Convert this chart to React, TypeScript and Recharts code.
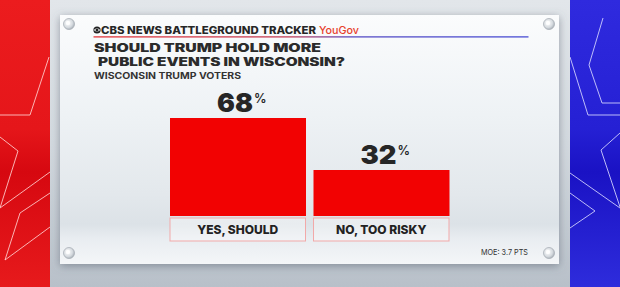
import React from "react";
import { BarChart, Bar, XAxis, YAxis, LabelList } from "recharts";

const categories = ["YES, SHOULD", "NO, TOO RISKY"];
const values = [68, 32];
const headerText = "CBS NEWS BATTLEGROUND TRACKER";
const brandText = "YouGov";
const titleLines = ["SHOULD TRUMP HOLD MORE", " PUBLIC EVENTS IN WISCONSIN?"];
const subtitleText = "WISCONSIN TRUMP VOTERS";
const moeText = "MOE: 3.7 PTS";

const data = categories.map((c, i) => ({ name: c, value: values[i] }));

const FONT = "Inter, 'Open Sans', 'DejaVu Sans', sans-serif";
const BAR_COLOR = "#f20202";

const Screw = ({ cx, cy }: { cx: number; cy: number }) => (
  <g>
    <circle cx={cx} cy={cy} r={5.5} fill="url(#screwGrad)" stroke="#a9b0b7" strokeWidth={0.8} />
    <circle cx={cx - 1} cy={cy - 1} r={2.2} fill="#ffffff" opacity={0.8} />
  </g>
);

const Background = () => (
  <svg width={620} height={287} style={{ position: "absolute", left: 0, top: 0 }}>
    <defs>
      <linearGradient id="midBg" x1="0" y1="0" x2="0" y2="1">
        <stop offset="0" stopColor="#e2e6ea" />
        <stop offset="0.5" stopColor="#d3d9df" />
        <stop offset="1" stopColor="#b8c0c9" />
      </linearGradient>
      <linearGradient id="redBg" x1="0" y1="0" x2="0" y2="1">
        <stop offset="0" stopColor="#ec1c1e" />
        <stop offset="0.45" stopColor="#e5161a" />
        <stop offset="0.6" stopColor="#d60810" />
        <stop offset="1" stopColor="#e71a1c" />
      </linearGradient>
      <linearGradient id="blueBg" x1="0" y1="0" x2="0" y2="1">
        <stop offset="0" stopColor="#2f2ade" />
        <stop offset="0.45" stopColor="#2520d4" />
        <stop offset="0.6" stopColor="#1a12c4" />
        <stop offset="1" stopColor="#2e2cdc" />
      </linearGradient>
      <linearGradient id="panelGrad" x1="0" y1="0" x2="0" y2="1">
        <stop offset="0" stopColor="#fbfcfd" />
        <stop offset="0.4" stopColor="#eef2f5" />
        <stop offset="0.72" stopColor="#e3e8ec" />
        <stop offset="0.84" stopColor="#dce2e7" />
        <stop offset="0.9" stopColor="#e9edf1" />
        <stop offset="1" stopColor="#f4f6f8" />
      </linearGradient>
      <linearGradient id="ruleGrad" x1="0" y1="0" x2="1" y2="0">
        <stop offset="0" stopColor="#e3262a" />
        <stop offset="0.45" stopColor="#c0304a" />
        <stop offset="0.6" stopColor="#4a3fc0" />
        <stop offset="1" stopColor="#3a3fd0" />
      </linearGradient>
      <radialGradient id="screwGrad" cx="0.4" cy="0.4" r="0.7">
        <stop offset="0" stopColor="#ffffff" />
        <stop offset="0.6" stopColor="#d5dadf" />
        <stop offset="1" stopColor="#9aa2aa" />
      </radialGradient>
      <filter id="panelShadow" x="-10%" y="-10%" width="120%" height="130%">
        <feDropShadow dx="0" dy="2" stdDeviation="4" floodColor="#55606c" floodOpacity="0.55" />
      </filter>
    </defs>
    <rect x={0} y={0} width={620} height={287} fill="url(#midBg)" />
    <rect x={0} y={0} width={50} height={287} fill="url(#redBg)" />
    <rect x={570} y={0} width={50} height={287} fill="url(#blueBg)" />
    <g fill="none" stroke="#ffd0d0" strokeWidth={1} opacity={0.85}>
      <polyline points="49,57 30,115 0,115" />
      <polyline points="0,137 18,151 0,208 50,172" />
      <polyline points="50,193 20,213 5,260 50,227" />
    </g>
    <g fill="none" stroke="#d8d8ff" strokeWidth={1} opacity={0.85}>
      <polyline points="603,18 589,65 602,103 620,103" />
      <polyline points="570,57 588,115 620,115" />
      <polyline points="620,133 601,150 620,207" />
      <polyline points="570,173 620,208" />
      <polyline points="570,193 595,211 570,228" />
    </g>
    <rect x={60} y={15} width={499} height={249} fill="url(#panelGrad)" filter="url(#panelShadow)" />
    <Screw cx={69} cy={24} />
    <Screw cx={549} cy={24} />
    <Screw cx={69} cy={253} />
    <Screw cx={549} cy={253} />

    {/* CBS eye */}
    <circle cx={97} cy={30} r={3.6} fill="#222" />
    <path d="M93.8,30 Q97,26.6 100.2,30 Q97,33.4 93.8,30 Z" fill="#f4f6f8" />
    <circle cx={97} cy={30} r={1.5} fill="#222" />
    <text x={101} y={33.6} fontFamily={FONT} fontWeight={800} fontSize={10} fill="#262626" textLength={215} lengthAdjust="spacingAndGlyphs">
      {headerText}
    </text>
    <text x={319} y={33.6} fontFamily={FONT} fontWeight={500} fontSize={10.5} fill="#e8412c" textLength={40} lengthAdjust="spacingAndGlyphs">
      {brandText}
    </text>
    <rect x={93.5} y={36.3} width={435} height={1.2} fill="url(#ruleGrad)" />
    <text x={94} y={52.3} fontFamily={FONT} fontWeight={900} fontSize={11.4} fill="#2b2b2b" textLength={227} lengthAdjust="spacingAndGlyphs">
      {titleLines[0].trim()}
    </text>
    <text x={98} y={66.2} fontFamily={FONT} fontWeight={900} fontSize={11.4} fill="#2b2b2b" textLength={247} lengthAdjust="spacingAndGlyphs">
      {titleLines[1].trim()}
    </text>
    <text x={94} y={79.4} fontFamily={FONT} fontWeight={700} fontSize={8.8} fill="#333" textLength={147} lengthAdjust="spacingAndGlyphs">
      {subtitleText}
    </text>
    <text x={528} y={255.2} textAnchor="end" fontFamily={FONT} fontWeight={400} fontSize={8} fill="#333" textLength={47} lengthAdjust="spacingAndGlyphs">
      {moeText}
    </text>
  </svg>
);

const ValueLabel = (props: any) => {
  const { x, y, width, value } = props;
  const cx = Number(x) + Number(width) / 2;
  const top = Number(y);
  return (
    <g>
      <text x={cx - 21} y={top - 6} fontFamily={FONT} fontWeight={900} fontSize={26} fill="#262626" textLength={36} lengthAdjust="spacingAndGlyphs">
        {value}
      </text>
      <text x={cx + 16} y={top - 15} fontFamily={FONT} fontWeight={600} fontSize={12.5} fill="#262626">
        %
      </text>
    </g>
  );
};

const CategoryTick = (props: any) => {
  const { x, y, payload } = props;
  const w = 135.5;
  return (
    <g>
      <rect x={x - w / 2} y={y + 2} width={w} height={23} fill="rgba(255,255,255,0.35)" stroke="#f2a9a9" strokeWidth={1} />
      <text x={x} y={y + 18.3} textAnchor="middle" fontFamily={FONT} fontWeight={800} fontSize={12} fill="#222">
        {payload.value}
      </text>
    </g>
  );
};

export default function App() {
  return (
    <div style={{ position: "absolute", left: 0, top: 0, width: 620, height: 287, overflow: "hidden" }}>
      <Background />
      <div style={{ position: "absolute", left: 0, top: 0 }}>
        <BarChart
          width={620}
          height={287}
          data={data}
          margin={{ top: 72, right: 167, bottom: 45, left: 166 }}
          barCategoryGap={4}
        >
          <XAxis
            dataKey="name"
            height={26}
            tickLine={false}
            axisLine={false}
            tickSize={0}
            tickMargin={0}
            interval={0}
            tick={<CategoryTick />}
          />
          <YAxis hide domain={[0, 100]} />
          <Bar dataKey="value" fill={BAR_COLOR} isAnimationActive={false}>
            <LabelList dataKey="value" content={<ValueLabel />} />
          </Bar>
        </BarChart>
      </div>
    </div>
  );
}
